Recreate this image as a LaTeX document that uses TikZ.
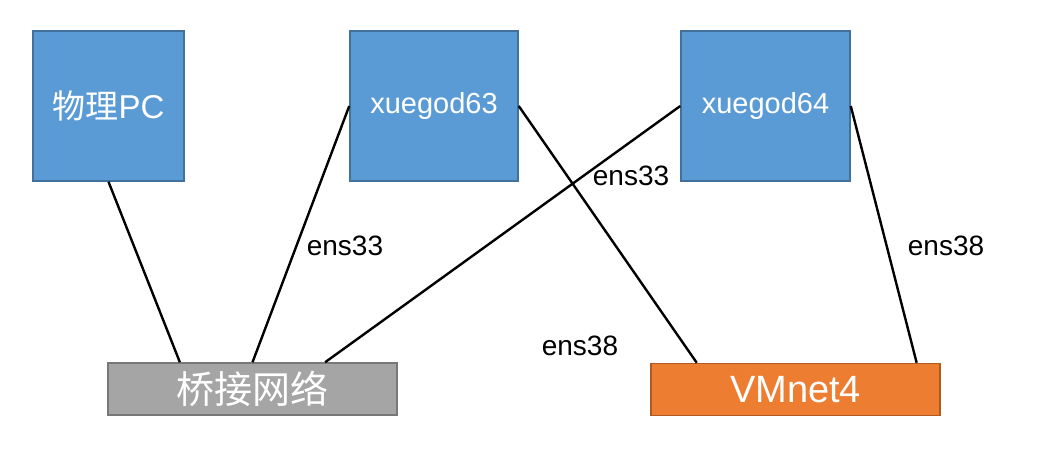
\documentclass[tikz,border=0pt]{standalone}
\usepackage{fontspec}
\setmainfont{Liberation Sans}
\newfontfamily\cjk{Noto Sans CJK SC}
\usetikzlibrary{calc}
\definecolor{hostfill}{rgb}{0.357, 0.608, 0.835}
\definecolor{hostline}{rgb}{0.255, 0.443, 0.612}
\definecolor{bridgefill}{rgb}{0.647, 0.647, 0.647}
\definecolor{bridgeline}{rgb}{0.471, 0.471, 0.471}
\definecolor{vmnetfill}{rgb}{0.929, 0.490, 0.192}
\definecolor{vmnetline}{rgb}{0.682, 0.353, 0.129}
\tikzset{
  hostbox/.style={draw=hostline, fill=hostfill, line width=1.5pt, text=white,
    minimum width=151pt, minimum height=150pt, inner sep=0pt},
  netbox/.style={line width=1.5pt, text=white, minimum width=289pt,
    minimum height=52pt, inner sep=0pt, font=\fontsize{38}{40}\selectfont},
  link/.style={line width=2.4pt, black},
  nic/.style={font=\fontsize{28}{30}\selectfont, inner sep=0pt}
}
\begin{document}
\begin{tikzpicture}[x=1pt, y=-1pt]
\useasboundingbox (0,0) rectangle (1062,450);
% hosts
\node[hostbox, font=\fontsize{33}{36}\selectfont] (pc) at (108.5,106) {{\cjk 物理}PC};
\node[hostbox, minimum width=168pt, font=\fontsize{29}{31}\selectfont] (vm63) at (434,106) {xuegod63};
\node[hostbox, minimum width=169pt, font=\fontsize{29}{31}\selectfont] (vm64) at (765.5,106) {xuegod64};
% networks
\node[netbox, draw=bridgeline, fill=bridgefill] (bridge) at (252.5,389) {\cjk 桥接网络};
\node[netbox, draw=vmnetline, fill=vmnetfill] (vmnet) at (795.5,389.5) {VMnet4};
% links
\draw[link] (pc.south) -- ($(bridge.north west)!0.25!(bridge.north east)$);
\draw[link] (vm63.west) -- (bridge.north);
\draw[link] (vm64.west) -- ($(bridge.north west)!0.75!(bridge.north east)$);
\draw[link] (vm63.east) -- ($(vmnet.north west)!0.16!(vmnet.north east)$);
\draw[link] (vm64.east) -- ($(vmnet.north west)!0.917!(vmnet.north east)$);
% interface names
\node[nic] (ens33a) at (345,246) {ens33};
\node[nic] (ens33b) at (631,176) {ens33};
\node[nic] (ens38a) at (946,246) {ens38};
\node[nic] (ens38b) at (580,346) {ens38};
\end{tikzpicture}
\end{document}
